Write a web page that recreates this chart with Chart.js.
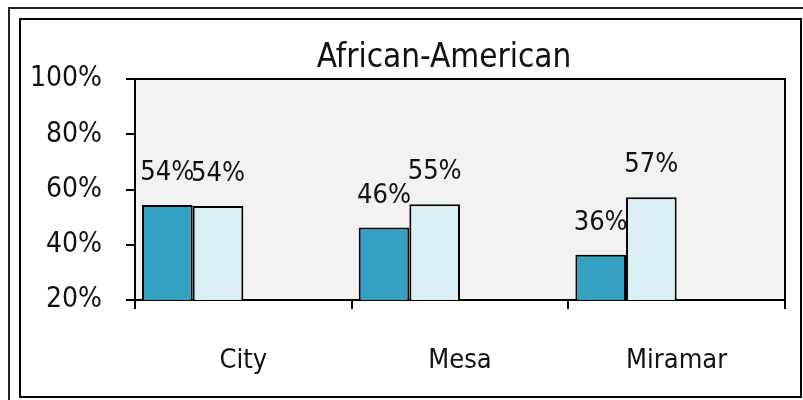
<!DOCTYPE html>
<html>
<head>
<meta charset="utf-8">
<script src="https://cdn.jsdelivr.net/npm/chart.js@4.4.0/dist/chart.umd.min.js"></script>
<style>
  body { margin: 0; background: #fff; }
  #wrap { position: relative; width: 803px; height: 400px; overflow: hidden; }
  #outer { position: absolute; left: 8px; top: 7px; width: 900px; height: 500px;
           border-left: 2px solid #222; border-top: 2px solid #222; }
  #inner { position: absolute; left: 19px; top: 18px; width: 779px; height: 376px;
           border: 2px solid #000; }
  canvas { position: absolute; left: 0; top: 0; }
</style>
</head>
<body>
<div id="wrap">
  <div id="outer"></div>
  <div id="inner"></div>
  <canvas id="chart" width="803" height="400"></canvas>
</div>
<script>
// --- Data ---
const categories = ["City", "Mesa", "Miramar"];
const seriesA = [54.4, 46.2, 36.4];
const seriesB = [54.0, 54.7, 57.2];
const emptySeries = [null, null, null];
const yTicks = [20, 40, 60, 80, 100];
const chartTitle = "African-American";

const TEXT_FONT = "'DejaVu Sans Condensed', 'DejaVu Sans', sans-serif";
const NUM_FONT = "'Liberation Sans Narrow', 'DejaVu Sans Condensed', sans-serif";

// plot background + frame + title
const plotFrame = {
  id: "plotFrame",
  beforeDraw(chart) {
    const a = chart.chartArea, ctx = chart.ctx;
    ctx.save();
    ctx.fillStyle = "#f2f2f2";
    ctx.fillRect(a.left, a.top, a.right - a.left, a.bottom - a.top);
    ctx.restore();
  },
  afterDraw(chart) {
    const a = chart.chartArea, ctx = chart.ctx;
    ctx.save();
    ctx.strokeStyle = "#000";
    ctx.lineWidth = 2;
    ctx.beginPath();
    ctx.moveTo(a.left, a.top);
    ctx.lineTo(a.right, a.top);
    ctx.lineTo(a.right, a.bottom);
    ctx.stroke();

    ctx.font = "33px " + TEXT_FONT;
    ctx.fillStyle = "#111";
    ctx.textAlign = "center";
    ctx.textBaseline = "alphabetic";
    ctx.fillText(chartTitle, 444, 67);
    ctx.restore();
  }
};

// value labels above the bars
const valueLabels = {
  id: "valueLabels",
  afterDatasetsDraw(chart) {
    const ctx = chart.ctx;
    ctx.save();
    ctx.font = "27px " + NUM_FONT;
    ctx.fillStyle = "#111";
    ctx.textAlign = "center";
    ctx.textBaseline = "middle";
    chart.data.datasets.forEach((ds, i) => {
      chart.getDatasetMeta(i).data.forEach((bar, j) => {
        const v = ds.data[j];
        if (v == null) return;
        ctx.fillText(Math.round(v) + "%", bar.x, bar.y - 32);
      });
    });
    ctx.restore();
  }
};

new Chart(document.getElementById("chart"), {
  type: "bar",
  data: {
    labels: categories,
    datasets: [
      { data: seriesA, backgroundColor: "#33a0c4" },
      { data: seriesB, backgroundColor: "#daeff5" },
      { data: emptySeries },
      { data: emptySeries }
    ]
  },
  options: {
    responsive: false,
    animation: false,
    layout: { padding: { left: 0, right: 18, top: 79, bottom: 0 } },
    datasets: {
      bar: {
        barPercentage: 1,
        categoryPercentage: 0.935,
        borderColor: "#000",
        borderWidth: 2,
        borderSkipped: false
      }
    },
    plugins: {
      legend: { display: false },
      tooltip: { enabled: false },
      title: { display: false }
    },
    scales: {
      x: {
        offset: true,
        grid: { offset: true, drawOnChartArea: false, color: "#000", lineWidth: 2, tickLength: 9 },
        border: { color: "#000", width: 2 },
        ticks: { color: "#111", padding: 36, font: { family: TEXT_FONT, size: 27 } },
        afterFit(scale) { scale.height = 100; }
      },
      y: {
        min: yTicks[0],
        max: yTicks[yTicks.length - 1],
        afterBuildTicks(scale) { scale.ticks = yTicks.map(v => ({ value: v })); },
        grid: { drawOnChartArea: false, color: "#000", lineWidth: 2, tickLength: 9 },
        border: { color: "#000", width: 2 },
        ticks: { color: "#111", padding: 24, font: { family: NUM_FONT, size: 28 }, callback: v => v + "%" },
        afterFit(scale) { scale.width = 135; }
      }
    }
  },
  plugins: [plotFrame, valueLabels]
});
</script>
</body>
</html>
